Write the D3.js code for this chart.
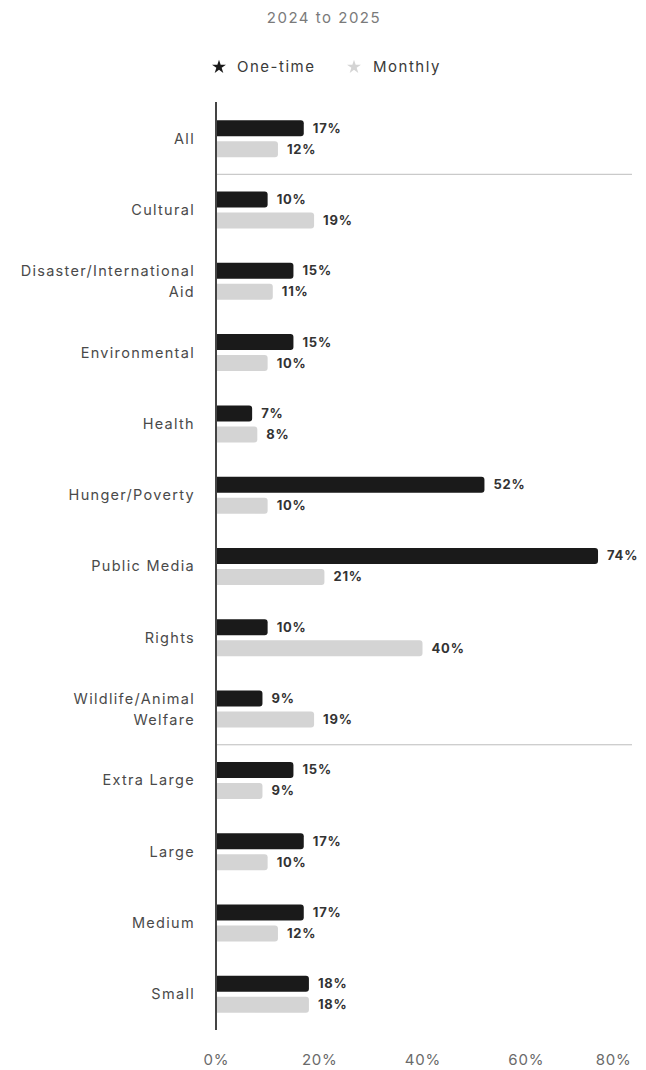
<!DOCTYPE html>
<html>
<head>
<meta charset="utf-8">
<script src="https://cdn.jsdelivr.net/npm/d3@7"></script>
<style>
  html, body { margin: 0; padding: 0; background: #fff; }
  svg { display: block; font-family: Inter, "Noto Sans", sans-serif; }
</style>
</head>
<body>
<svg id="chart" width="646" height="1070"></svg>
<script>
// Share of donors by cause / size, one-time vs monthly
const categories = [
  ["All"],
  ["Cultural"],
  ["Disaster/International", "Aid"],
  ["Environmental"],
  ["Health"],
  ["Hunger/Poverty"],
  ["Public Media"],
  ["Rights"],
  ["Wildlife/Animal", "Welfare"],
  ["Extra Large"],
  ["Large"],
  ["Medium"],
  ["Small"]
];
const seriesNames = ["One-time", "Monthly"];
const oneTime = [17, 10, 15, 15, 7, 52, 74, 10, 9, 15, 17, 17, 18];
const monthly = [12, 19, 11, 10, 8, 10, 21, 40, 19, 9, 10, 12, 18];
const tickValues = [0, 20, 40, 60, 80];
const dividerAfter = ["All", "Wildlife/Animal Welfare"];

const colors = { "One-time": "#1a1a1a", "Monthly": "#d4d4d4" };

const svg = d3.select("#chart");
const keys = categories.map(c => c.join(" "));

const x = d3.scaleLinear().domain([0, 80]).range([216, 629]);
const y = d3.scaleBand().domain(keys).range([103, 1030]);
const barH = 16, gap = 5;
const inner = d3.scaleBand().domain(seriesNames)
  .range([y.bandwidth() / 2 - barH - gap / 2, y.bandwidth() / 2 + barH + gap / 2])
  .paddingInner(gap / (barH + gap));

// title
svg.append("text")
  .attr("x", 324).attr("y", 23)
  .attr("text-anchor", "middle")
  .attr("font-size", 15).attr("letter-spacing", 1.5).attr("fill", "#7a7a7a")
  .text("2024 to 2025");

// legend
const legendItems = [
  { name: "One-time", sx: 219, tx: 237 },
  { name: "Monthly", sx: 354, tx: 373 }
];
const star = d3.symbol().type(d3.symbolStar).size(60);
const lg = svg.append("g").attr("class", "legend");
legendItems.forEach(it => {
  lg.append("path").attr("d", star())
    .attr("transform", `translate(${it.sx},67)`)
    .attr("fill", colors[it.name]);
  lg.append("text").attr("x", it.tx).attr("y", 72)
    .attr("font-size", 15).attr("letter-spacing", 1.5).attr("fill", "#3a3a3a")
    .text(it.name);
});

// divider lines between groups
dividerAfter.forEach(k => {
  const yy = y(k) + y.bandwidth();
  svg.append("line")
    .attr("x1", x(0)).attr("x2", 632)
    .attr("y1", yy).attr("y2", yy)
    .attr("stroke", "#bdbdbd").attr("stroke-width", 1);
});

// rows
const rows = categories.map((c, i) => ({
  key: keys[i], lines: c,
  vals: [{ s: "One-time", v: oneTime[i] }, { s: "Monthly", v: monthly[i] }]
}));

const g = svg.selectAll("g.row").data(rows).join("g")
  .attr("class", "row")
  .attr("transform", d => `translate(0,${y(d.key)})`);

// category labels
g.each(function(d) {
  const t = d3.select(this).append("text")
    .attr("text-anchor", "end")
    .attr("font-size", 14.5).attr("letter-spacing", 1.3).attr("fill", "#4a4a4a");
  const n = d.lines.length;
  d.lines.forEach((ln, j) => {
    t.append("tspan")
      .attr("x", 195)
      .attr("y", y.bandwidth() / 2 + 5 + (j - (n - 1) / 2) * 21)
      .text(ln);
  });
});

// bars with rounded right end
function barPath(x0, x1, y0, h, r) {
  r = Math.min(r, (x1 - x0) / 2, h / 2);
  return `M${x0},${y0}H${x1 - r}A${r},${r} 0 0 1 ${x1},${y0 + r}` +
         `V${y0 + h - r}A${r},${r} 0 0 1 ${x1 - r},${y0 + h}H${x0}Z`;
}

g.selectAll("path.bar").data(d => d.vals).join("path")
  .attr("class", "bar")
  .attr("d", d => barPath(x(0), x(d.v), inner(d.s), barH, 3))
  .attr("fill", d => colors[d.s]);

g.selectAll("text.val").data(d => d.vals).join("text")
  .attr("class", "val")
  .attr("x", d => x(d.v) + 9)
  .attr("y", d => inner(d.s) + barH / 2 + 4.5)
  .attr("font-size", 13).attr("font-weight", 700).attr("letter-spacing", 0.8)
  .attr("fill", "#333")
  .text(d => d.v + "%");

// vertical baseline
svg.append("line")
  .attr("x1", x(0)).attr("x2", x(0))
  .attr("y1", 102).attr("y2", 1030)
  .attr("stroke", "#444").attr("stroke-width", 2);

// x axis tick labels
const axis = d3.axisBottom(x).tickValues(tickValues)
  .tickFormat(d => d + "%").tickSize(0).tickPadding(0);
const ax = svg.append("g").attr("transform", "translate(0,1054)").call(axis);
ax.select(".domain").remove();
ax.selectAll("text")
  .attr("font-family", "Inter, 'Noto Sans', sans-serif")
  .attr("font-size", 15).attr("letter-spacing", 0.8).attr("fill", "#6a6a6a");
// keep the last label inside the frame
ax.selectAll(".tick").filter(d => d === 80).select("text")
  .attr("text-anchor", "end").attr("x", 631 - x(80));
</script>
</body>
</html>
